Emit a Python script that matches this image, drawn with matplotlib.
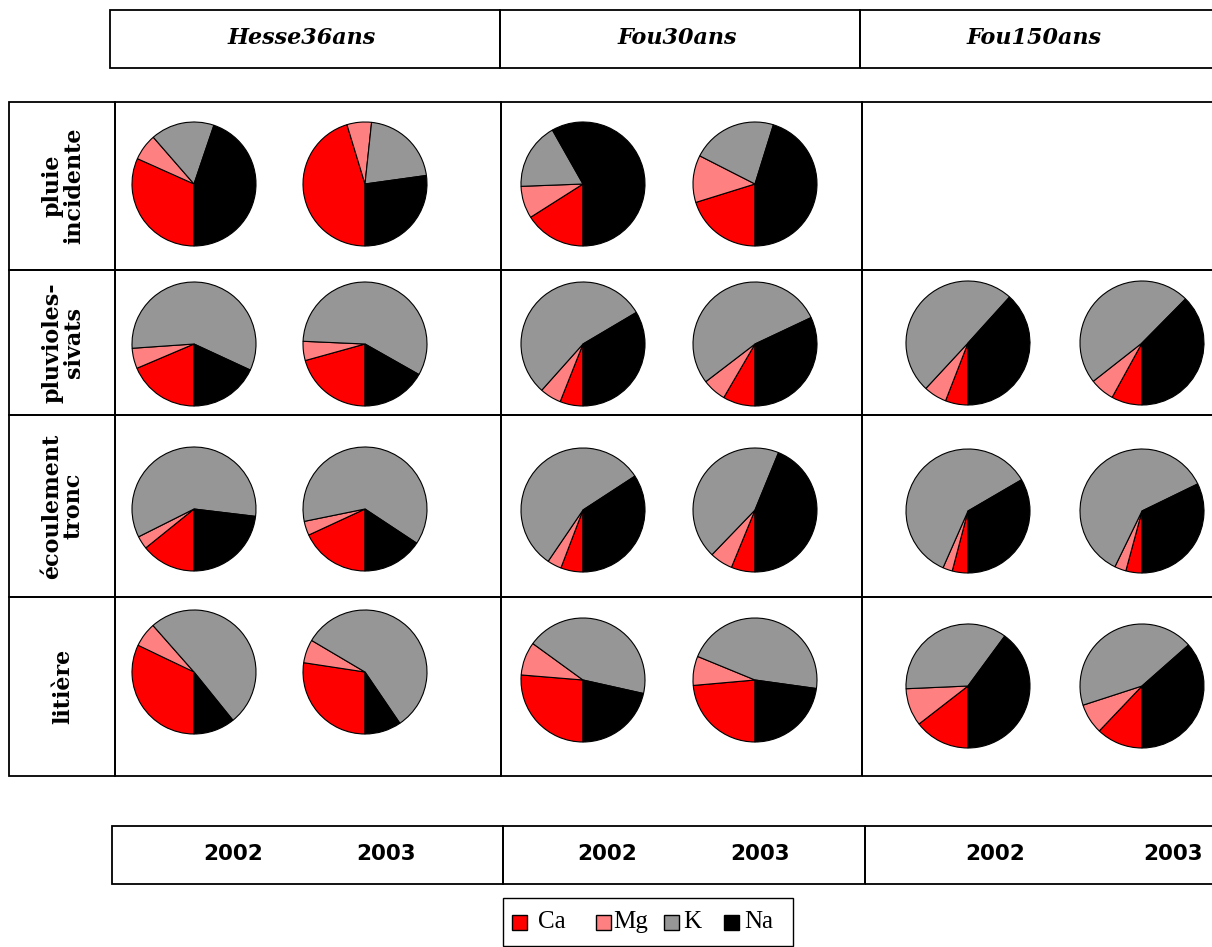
import matplotlib
matplotlib.use("Agg")
import matplotlib.pyplot as plt
from matplotlib.patches import Rectangle

# ---- data: share of each cation (Ca, Mg, K, Na), in %, per flux row ----
ELEMENTS = ["Ca", "Mg", "K", "Na"]
COLORS = ["#ff0000", "#ff8080", "#969696", "#000000"]
SITES = ["Hesse36ans", "Fou30ans", "Fou150ans"]
YEARS = ["2002", "2003"]
FLUXES = ["pluie\nincidente", "pluvioles-\nsivats", "écoulement\ntronc", "litière"]

HESSE_2002 = [[31.7, 6.9, 16.6, 44.8], [18.6, 5.3, 58.0, 18.1],
              [14.2, 3.4, 59.3, 23.1], [32.1, 6.4, 50.7, 10.8]]
HESSE_2003 = [[45.3, 6.4, 21.1, 27.2], [20.7, 5.0, 57.5, 16.8],
              [18.1, 3.7, 62.5, 15.7], [27.4, 6.1, 57.0, 9.5]]
FOU30_2002 = [[16.0, 8.4, 17.4, 58.2], [6.0, 5.6, 54.9, 33.5],
              [5.8, 3.7, 56.3, 34.2], [26.3, 8.7, 43.5, 21.5]]
FOU30_2003 = [[20.2, 12.3, 22.3, 45.2], [8.4, 6.2, 53.4, 32.0],
              [6.2, 6.0, 44.0, 43.8], [23.6, 7.6, 46.0, 22.8]]
FOU150_2002 = [None, [5.9, 6.0, 49.8, 38.3],
               [4.1, 2.5, 60.0, 33.4], [14.5, 9.8, 35.8, 39.9]]
FOU150_2003 = [None, [8.0, 6.4, 48.0, 37.6],
               [4.2, 3.0, 60.6, 32.2], [12.1, 7.9, 43.5, 36.5]]

PIES = [[HESSE_2002, HESSE_2003], [FOU30_2002, FOU30_2003], [FOU150_2002, FOU150_2003]]

# ---- layout (pixels, y measured from the top of the picture) ----
W, H = 1212, 947
COL_X = [[194, 365], [583, 755], [968, 1142]]
ROW_Y = [[184, 184, 186], [344, 344, 343], [509, 510, 511], [672, 680, 686]]
PIE_R = 62
SITE_X = [110, 500, 860, 1214]
PANEL_X = [115, 501, 862, 1214]
ROW_EDGES = [102, 270, 415, 597, 776]
BOTTOM_X = [112, 503, 865, 1214]
YEAR_X = [[233, 386], [607, 760], [995, 1173]]
LEG_BOX_X = [512, 596, 664, 724]
LEG_TEXT_X = [538, 613, 683, 744]


def Y(y):
    return H - y


fig = plt.figure(figsize=(W / 100, H / 100), dpi=100)
ax = fig.add_axes([0, 0, 1, 1])

lw = 1.3
# top header
for i, name in enumerate(SITES):
    x0, x1 = SITE_X[i], SITE_X[i + 1]
    ax.add_patch(Rectangle((x0, Y(68)), x1 - x0, 58, fill=False, lw=lw, ec="black"))
    ax.text((x0 + x1) / 2 - 3, Y(38), name, ha="center", va="center", fontsize=16,
            fontweight="bold", fontstyle="italic", family="DejaVu Serif")

# row labels and panels
for r, lab in enumerate(FLUXES):
    y0, y1 = ROW_EDGES[r], ROW_EDGES[r + 1]
    ax.add_patch(Rectangle((9, Y(y1)), 106, y1 - y0, fill=False, lw=lw, ec="black"))
    ax.text(63, Y((y0 + y1) / 2), lab, rotation=90, ha="center", va="center",
            fontsize=16, fontweight="bold", family="DejaVu Serif", linespacing=1.0)
    for c in range(3):
        x0, x1 = PANEL_X[c], PANEL_X[c + 1]
        ax.add_patch(Rectangle((x0, Y(y1)), x1 - x0, y1 - y0, fill=False, lw=lw, ec="black"))

# pies
for c in range(3):
    for k in range(2):
        for r in range(4):
            vals = PIES[c][k][r]
            if vals is None:
                continue
            ax.pie(vals, colors=COLORS, center=(COL_X[c][k], Y(ROW_Y[r][c])), radius=PIE_R,
                   startangle=-90, counterclock=False,
                   wedgeprops=dict(edgecolor="black", linewidth=0.8))

# bottom year boxes
for i in range(3):
    x0, x1 = BOTTOM_X[i], BOTTOM_X[i + 1]
    ax.add_patch(Rectangle((x0, Y(884)), x1 - x0, 58, fill=False, lw=lw, ec="black"))
    for k, yr in enumerate(YEARS):
        ax.text(YEAR_X[i][k], Y(854), yr, ha="center", va="center", fontsize=15.5,
                fontweight="bold", family="DejaVu Sans")

# legend
ax.add_patch(Rectangle((503, Y(946)), 290, 48, fill=False, lw=1.0, ec="black"))
for bx, tx, el, col in zip(LEG_BOX_X, LEG_TEXT_X, ELEMENTS, COLORS):
    ax.add_patch(Rectangle((bx, Y(930)), 15, 15, fc=col, ec="black", lw=1.0))
    ax.text(tx, Y(922), el, ha="left", va="center", fontsize=18,
            family="Liberation Serif")

ax.set_xlim(0, W)
ax.set_ylim(0, H)
ax.set_aspect("equal")
ax.axis("off")
fig.savefig("out.png", dpi=100, facecolor="white")
